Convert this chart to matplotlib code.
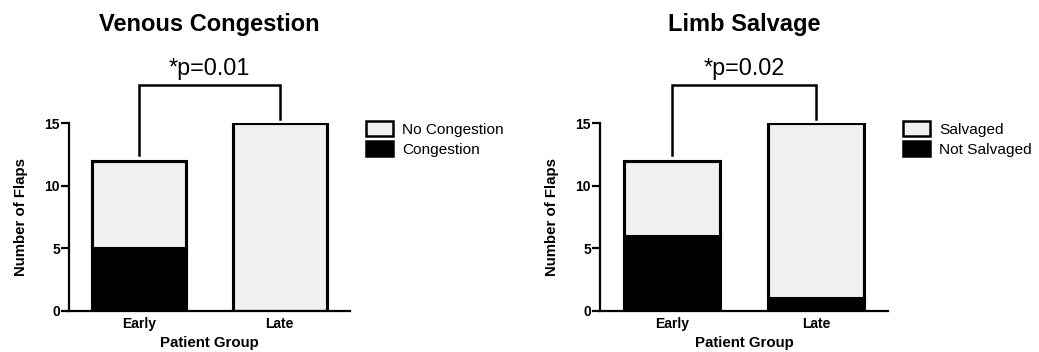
import matplotlib
matplotlib.use("Agg")
import matplotlib.pyplot as plt
from matplotlib.patches import Patch

plt.rcParams['font.family'] = ['Liberation Sans', 'DejaVu Sans']

groups = ["Early", "Late"]
titles = ["Venous Congestion", "Limb Salvage"]
top_labels = ["No Congestion", "Salvaged"]
bottom_labels = ["Congestion", "Not Salvaged"]
bottom_vals = [[5, 0], [6, 1]]
totals = [[12, 15], [12, 15]]
pvals = ["*p=0.01", "*p=0.02"]
yticks = [0, 5, 10, 15]

light = "#f0f0f0"
fig = plt.figure(figsize=(10.39, 3.52), dpi=100)
axes_pos = [[0.0664, 0.1165, 0.2705, 0.534], [0.5775, 0.1165, 0.2772, 0.534]]
legend_x = [0.352, 0.869]

for i in range(2):
    ax = fig.add_axes(axes_pos[i])
    x = list(range(len(groups)))
    bv = bottom_vals[i]
    tv = [t - b for t, b in zip(totals[i], bv)]
    ax.bar(x, bv, width=0.67, color="black", edgecolor="black", linewidth=2.2, zorder=2)
    ax.bar(x, tv, bottom=bv, width=0.67, color=light, edgecolor="black", linewidth=2.2, zorder=2)
    ax.bar(x, totals[i], width=0.67, fill=False, edgecolor="black", linewidth=2.2, zorder=3)
    ax.set_xlim(-0.5, 1.5)
    ax.set_ylim(0, 15)
    ax.set_yticks(yticks)
    ax.set_xticks(x)
    ax.set_xticklabels(groups, fontsize=10, fontweight="bold")
    for lab in ax.get_yticklabels():
        lab.set_fontweight("bold")
        lab.set_fontsize(10)
    ax.tick_params(axis="y", direction="out", length=5.5, width=1.6, pad=1)
    ax.tick_params(axis="x", length=0, pad=4)
    for s in ["top", "right"]:
        ax.spines[s].set_visible(False)
    for s in ["left", "bottom"]:
        ax.spines[s].set_linewidth(1.6)
    ax.set_ylabel("Number of Flaps", fontsize=10.8, fontweight="bold", labelpad=12)
    ax.set_xlabel("Patient Group", fontsize=10.8, fontweight="bold", labelpad=4)
    ybr = 18.0
    ax.plot([0, 0, 1, 1], [totals[i][0] + 0.45, ybr, ybr, totals[i][1] + 0.3],
            color="black", linewidth=1.8, clip_on=False, solid_joinstyle="miter")
    ax.text(0.5, ybr + 0.45, pvals[i], ha="center", va="bottom", fontsize=16.8, clip_on=False)
    ax.text(0.5, 22.9, titles[i], ha="center", va="center", fontsize=17,
            fontweight="bold", clip_on=False)
    handles = [Patch(facecolor=light, edgecolor="black", linewidth=1.8, label=top_labels[i]),
               Patch(facecolor="black", edgecolor="black", linewidth=1.8, label=bottom_labels[i])]
    fig.legend(handles=handles, loc="upper left", bbox_to_anchor=(legend_x[i], 0.655),
               frameon=False, fontsize=11.1, handlelength=1.75, handleheight=1.05,
               handletextpad=0.6, labelspacing=0.3, borderaxespad=0, borderpad=0)

fig.savefig("out.png", dpi=100)
